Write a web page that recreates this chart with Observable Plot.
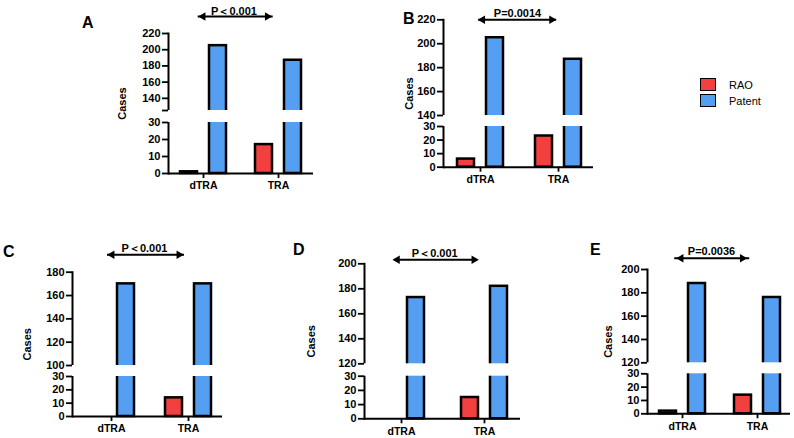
<!DOCTYPE html>
<html>
<head>
<meta charset="utf-8">
<script src="https://cdn.jsdelivr.net/npm/d3@7"></script>
<script src="https://cdn.jsdelivr.net/npm/@observablehq/plot@0.6"></script>
<style>
  body { margin: 0; background: #fff; }
  #fig { position: relative; width: 794px; height: 438px; overflow: hidden; font-family: "Liberation Sans", Arial, sans-serif; }
  #fig svg { position: absolute; left: 0; top: 0; }
  .letter { position: absolute; font-weight: bold; font-size: 16px; line-height: 16px; }
  .swatch { position: absolute; width: 14px; height: 11px; border: 1.5px solid #000; }
  .key { position: absolute; font-size: 11px; line-height: 12px; }
</style>
</head>
<body>
<div id="fig"></div>
<script>
const groups = ["dTRA", "TRA"];
const seriesNames = ["RAO", "Patent"];
const seriesColors = ["#f23f3f", "#559ff2"];

// Cases per access group (dTRA, TRA) for each panel
const raoA = [1, 17],  patentA = [205, 187];
const raoB = [6, 23],  patentB = [205, 187];
const raoC = [0, 14],  patentC = [170, 170];
const raoD = [0, 15],  patentD = [173, 182];
const raoE = [2, 14],  patentE = [188, 176];

// y tick values: lower segment, then upper segment
const ticksA = [0, 10, 20, 30, 140, 160, 180, 200, 220];
const ticksB = [0, 10, 20, 30, 140, 160, 180, 200, 220];
const ticksC = [0, 10, 20, 30, 100, 120, 140, 160, 180];
const ticksD = [0, 10, 20, 30, 120, 140, 160, 180, 200];
const ticksE = [0, 10, 20, 30, 120, 140, 160, 180, 200];

// axis break: top of the lower segment, bottom of the upper segment
const breakA = [30, 125];
const breakB = [30, 140];
const breakC = [30, 100];
const breakD = [30, 120];
const breakE = [30, 120];

const pLabels = ["P＜0.001", "P=0.0014", "P＜0.001", "P＜0.001", "P=0.0036"];
const panelLetters = ["A", "B", "C", "D", "E"];

// page layout of each panel (pixels)
const layouts = [
  {ax: 168, end: 313, c1: 203, c2: 278, y0: 173,   y30: 122,   yLo: 110,   yTop: 33,    labelOffset: 50, textDx: -7,   textDy: -26.5, arrowDy: -17,   headDx: [-5.3, -6.3], letter: [82, 15]},
  {ax: 443, end: 593, c1: 480, c2: 558, y0: 166.7, y30: 126,   yLo: 115,   yTop: 19.3,  labelOffset: 38, textDx: -1,   textDy: -11,   arrowDy: 0,     headDx: [-2.7, -2],   letter: [403, 11]},
  {ax: 72,  end: 222, c1: 111, c2: 188, y0: 416,   y30: 376,   yLo: 365,   yTop: 271.7, labelOffset: 49, textDx: -3,   textDy: -28.4, arrowDy: -17.4, headDx: [-4.3, -4.7], letter: [3, 244]},
  {ax: 364, end: 520, c1: 401, c2: 484, y0: 418.3, y30: 375.7, yLo: 363.3, yTop: 263.3, labelOffset: 57, textDx: -7.7, textDy: -15,   arrowDy: -4,    headDx: [-9, -5.7],   letter: [293, 242]},
  {ax: 647, end: 790, c1: 682, c2: 757, y0: 413.3, y30: 373.3, yLo: 362.3, yTop: 269,   labelOffset: 43, textDx: -7.5, textDy: -22.3, arrowDy: -11.3, headDx: [-6.3, -10.3], letter: [590, 242]}
];

const raos = [raoA, raoB, raoC, raoD, raoE];
const patents = [patentA, patentB, patentC, patentD, patentE];
const tickSets = [ticksA, ticksB, ticksC, ticksD, ticksE];
const breaks = [breakA, breakB, breakC, breakD, breakE];

const fig = document.getElementById("fig");
const W = 794, H = 438;
const bandW = 46, barInset = 29, headR = 4;

function drawPanel(rao, patent, ticks, brk, pLabel, L) {
  const top = ticks[ticks.length - 1];
  const rows = (vals, s) => groups.map((g, j) => ({group: g, series: s, value: vals[j]}));
  const total = L.end - L.ax, step = L.c2 - L.c1;
  const paddingInner = 1 - bandW / step;
  const paddingOuter = (total / step - 2 + paddingInner) / 2;
  const align = (L.c1 - bandW / 2 - L.ax) / (total - step - bandW);
  const sig = [{from: groups[0], to: groups[1], label: pLabel}];
  const headSize = headR * Math.sqrt(Math.PI) * 0.6824;

  const marks = [
    Plot.frame({anchor: "left", strokeWidth: 2}),
    Plot.barY(rows(rao, seriesNames[0]), {x: "group", y: "value", fill: seriesColors[0], stroke: "black", strokeWidth: 2.5, insetRight: barInset}),
    Plot.barY(rows(patent, seriesNames[1]), {x: "group", y: "value", fill: seriesColors[1], stroke: "black", strokeWidth: 2.5, insetLeft: barInset}),
    // gap of the broken axis
    Plot.rect([brk], {y1: (d) => d[0], y2: (d) => d[1], fill: "white", insetLeft: -3}),
    Plot.ruleY([0], {strokeWidth: 2}),
    Plot.axisY({ticks, tickSize: 6, tickPadding: 2, strokeWidth: 1.8, fontSize: 11, label: "Cases", labelArrow: false, labelAnchor: "center", labelOffset: L.labelOffset}),
    Plot.axisX({tickSize: 5, tickPadding: 3.5, strokeWidth: 1.8, fontSize: 10.5, label: null}),
    // significance bracket
    Plot.link(sig, {x1: "from", x2: "to", y1: top, y2: top, dx: (L.headDx[0] + L.headDx[1]) / 2, dy: L.arrowDy, stroke: "black", strokeWidth: 2}),
    Plot.dot(sig, {x: "from", y: top, dx: L.headDx[0] + headSize, dy: L.arrowDy, symbol: "triangle2", rotate: -90, r: headR, fill: "black", stroke: "none"}),
    Plot.dot(sig, {x: "to", y: top, dx: L.headDx[1] - headSize, dy: L.arrowDy, symbol: "triangle2", rotate: 90, r: headR, fill: "black", stroke: "none"}),
    Plot.text(sig, {frameAnchor: "top", text: "label", dx: L.textDx, dy: L.textDy, fontSize: 11})
  ];
  if (!ticks.includes(brk[1])) {
    marks.push(Plot.axisY({ticks: [brk[1]], tickSize: 6, strokeWidth: 1.8, tickFormat: () => "", label: null}));
  }

  return Plot.plot({
    width: W,
    height: H,
    marginLeft: L.ax,
    marginRight: W - L.end,
    marginTop: L.yTop,
    marginBottom: H - L.y0,
    style: {fontFamily: '"Liberation Sans", Arial, sans-serif', fontWeight: "bold", fontSize: "11px", background: "transparent", overflow: "visible"},
    x: {type: "band", domain: groups, paddingInner, paddingOuter, align, round: false},
    y: {type: "linear", domain: [0, brk[0], brk[1], top], range: [L.y0, L.y30, L.yLo, L.yTop]},
    marks
  });
}

layouts.forEach((L, i) => {
  fig.appendChild(drawPanel(raos[i], patents[i], tickSets[i], breaks[i], pLabels[i], L));
  const d = document.createElement("div");
  d.className = "letter";
  d.textContent = panelLetters[i];
  d.style.left = L.letter[0] + "px";
  d.style.top = L.letter[1] + "px";
  fig.appendChild(d);
});

// legend
seriesNames.forEach((name, i) => {
  const sw = document.createElement("div");
  sw.className = "swatch";
  sw.style.background = seriesColors[i];
  sw.style.left = "700px";
  sw.style.top = (78 + i * 16) + "px";
  fig.appendChild(sw);
  const t = document.createElement("div");
  t.className = "key";
  t.textContent = name;
  t.style.left = "729px";
  t.style.top = (79 + i * 16) + "px";
  fig.appendChild(t);
});
</script>
</body>
</html>
